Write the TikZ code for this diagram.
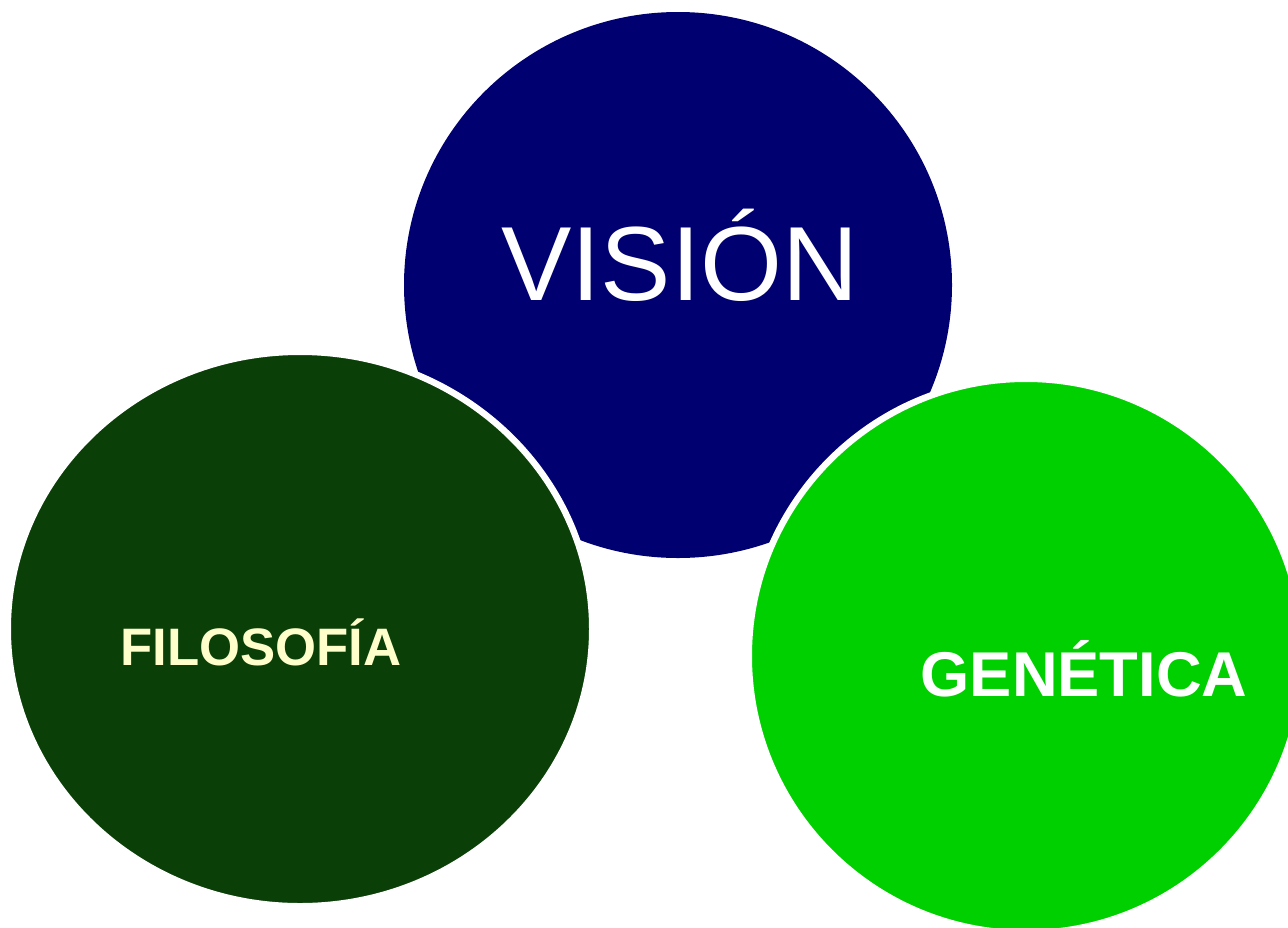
\documentclass[tikz,border=0pt]{standalone}
\usepackage{fontspec}
\setmainfont{Liberation Sans}
\usepackage{tikz}

\definecolor{navyblue}{RGB}{0,0,112}
\definecolor{darkleaf}{RGB}{10,63,7}
\definecolor{brightgreen}{RGB}{0,208,0}
\definecolor{paleyellow}{RGB}{255,255,204}

\begin{document}
\begin{tikzpicture}[x=0.02cm, y=-0.02cm, line width=0.13cm]
\useasboundingbox (0,0) rectangle (1288,927);
\coordinate (V) at (678,285) ;
\coordinate (F) at (300,629) ;
\coordinate (G) at (1026,656) ;
\fill[navyblue] (V) ellipse [x radius=274, y radius=273];
\draw[white,fill=darkleaf] (F) ellipse [x radius=292.25, y radius=277.25];
\draw[white,fill=brightgreen] (G) ellipse [x radius=277.25, y radius=277.25];
\draw[white] (680,300) node[anchor=base] (vision) {\fontsize{60}{60}\selectfont VISIÓN} ;
\draw[paleyellow] (261,665) node[anchor=base] (filosofia) {\fontsize{30}{30}\selectfont\bfseries FILOSOFÍA} ;
\draw[white] (1084,696) node[anchor=base] (genetica) {\fontsize{36}{36}\selectfont\bfseries GENÉTICA} ;
\end{tikzpicture}
\end{document}
